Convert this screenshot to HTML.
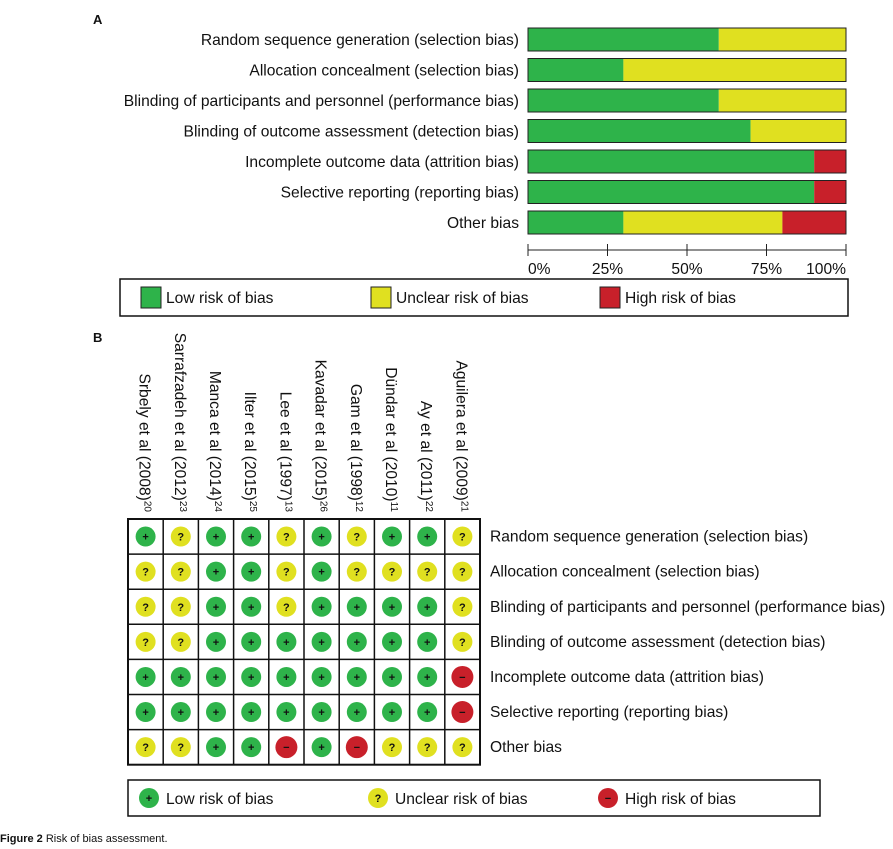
<!DOCTYPE html>
<html><head><meta charset="utf-8"><style>
html,body{margin:0;padding:0;background:#fff;width:893px;height:849px;overflow:hidden}
svg{display:block;font-family:"Liberation Sans",sans-serif}
</style></head><body>
<svg id="fig" width="893" height="849" viewBox="0 0 893 849"></svg>
<script>
const domains = ["Random sequence generation (selection bias)","Allocation concealment (selection bias)","Blinding of participants and personnel (performance bias)","Blinding of outcome assessment (detection bias)","Incomplete outcome data (attrition bias)","Selective reporting (reporting bias)","Other bias"];
const lowPct = [60,30,60,70,90,90,30];
const unclearPct = [40,70,40,30,0,0,50];
const highPct = [0,0,0,0,10,10,20];
const xTicks = [0,25,50,75,100];
const studies = ["Srbely et al (2008)","Sarrafzadeh et al (2012)","Manca et al (2014)","Ilter et al (2015)","Lee et al (1997)","Kavadar et al (2015)","Gam et al (1998)","Dündar et al (2010)","Ay et al (2011)","Aguilera et al (2009)"];
const refs = ["20","23","24","25","13","26","12","11","22","21"];
const judgements = [
 ["L","U","L","L","U","L","U","L","L","U"],
 ["U","U","L","L","U","L","U","U","U","U"],
 ["U","U","L","L","U","L","L","L","L","U"],
 ["U","U","L","L","L","L","L","L","L","U"],
 ["L","L","L","L","L","L","L","L","L","H"],
 ["L","L","L","L","L","L","L","L","L","H"],
 ["U","U","L","L","H","L","H","U","U","U"]
];
const G="#2eb34a",Y="#e0e020",R="#c8202a";
const FS=15.6;
const svg=document.getElementById('fig');
const NS="http://www.w3.org/2000/svg";
function mk(t,a,p){const e=document.createElementNS(NS,t);for(const k in a)e.setAttribute(k,a[k]);(p||svg).appendChild(e);return e;}
function txt(x,y,s,a,p){const e=mk('text',Object.assign({x:x,y:y,'font-size':FS,fill:'#111'},a||{}),p);e.textContent=s;return e;}

// Panel A
let e=txt(93,24,"A",{'font-weight':'bold','font-size':13});


const x0=528,x1=846;
const xs=v=>x0+(x1-x0)*v/100;
const rowY=i=>28+i*30.5;
domains.forEach((d,i)=>{
 const y=rowY(i);
 const g=mk('g',{});
 
 
 const l=txt(519,y+17,d,{'text-anchor':'end'},g);
 
 
 let acc=0;
 [[lowPct[i],G,'low'],[unclearPct[i],Y,'unclear'],[highPct[i],R,'high']].forEach(s=>{
  if(s[0]>0){const r=mk('rect',{x:xs(acc),y:y,width:xs(acc+s[0])-xs(acc),height:23,fill:s[1]},g);
  
  }
  acc+=s[0];
 });
 mk('rect',{x:x0,y:y,width:x1-x0,height:23,fill:'none',stroke:'#222','stroke-width':1},g);
});
const ax=mk('g',{});


mk('line',{x1:x0,y1:250,x2:x1,y2:250,stroke:'#222'},ax);
xTicks.forEach(t=>{
 mk('line',{x1:xs(t),y1:244,x2:xs(t),y2:256,stroke:'#222'},ax);
 const tl=txt(xs(t),274,t+"%",{'text-anchor':t==0?'start':t==100?'end':'middle'},ax);
 
 
});
// legend A
const lg=mk('g',{});


mk('rect',{x:120,y:279,width:728,height:37,fill:'#fff',stroke:'#111','stroke-width':1.5},lg);
[[141,G,"Low risk of bias"],[371,Y,"Unclear risk of bias"],[600,R,"High risk of bias"]].forEach(s=>{
 const le=mk('g',{},lg);
 
 
 mk('rect',{x:s[0],y:287,width:20,height:21,fill:s[1],stroke:'#222'},le);
 txt(s[0]+25,303,s[2],{},le);
});

// Panel B
e=txt(93,342,"B",{'font-weight':'bold','font-size':13});


const gx0=128,cw=35.2,gy0=519,rh=35.1;
studies.forEach((s,j)=>{
 const cx=gx0+cw*j+cw/2-6;
 const t=mk('text',{transform:`translate(${cx},512) rotate(90)`,'font-size':FS,fill:'#111','text-anchor':'end'});
 
 
 t.textContent=s;
 const sup=mk('tspan',{'font-size':10,dy:-5},t);sup.textContent=refs[j];
});
const grid=mk('g',{});


mk('rect',{x:gx0,y:gy0,width:cw*10,height:rh*7,fill:'#fff',stroke:'#111','stroke-width':2},grid);
for(let j=1;j<10;j++)mk('line',{x1:gx0+cw*j,y1:gy0,x2:gx0+cw*j,y2:gy0+rh*7,stroke:'#111','stroke-width':1.5},grid);
for(let i=1;i<7;i++)mk('line',{x1:gx0,y1:gy0+rh*i,x2:gx0+cw*10,y2:gy0+rh*i,stroke:'#111','stroke-width':1.5},grid);
function sym(cx,cy,v,p,r){
 r=r||10;
 const c=mk('circle',{cx:cx,cy:cy,r:r,fill:v=='L'?G:v=='U'?Y:R},p);
 txt(cx,cy+4,v=='L'?'+':v=='U'?'?':'−',{'text-anchor':'middle','font-size':11,'font-weight':'bold'},p);
 return c;
}
judgements.forEach((row,i)=>{
 const ry=gy0+rh*i+rh/2;
 const dl=txt(490,ry+5,domains[i],{},grid);
 
 
 row.forEach((v,j)=>{
  const g=mk('g',{},grid);
  
  
  sym(gx0+cw*j+cw/2,ry,v,g,v=='H'?11:10);
 });
});
// legend B
const lb=mk('g',{});


mk('rect',{x:128,y:780,width:692,height:36,fill:'#fff',stroke:'#111','stroke-width':1.5},lb);
[[149,'L',"Low risk of bias"],[378,'U',"Unclear risk of bias"],[608,'H',"High risk of bias"]].forEach(s=>{
 const le=mk('g',{},lb);
 
 
 sym(s[0],798,s[1],le,10);
 txt(s[0]+17,804,s[2],{},le);
});
// caption
const cap=mk('text',{x:0,y:842,'font-size':11,fill:'#111'});


const b=mk('tspan',{'font-weight':'bold'},cap);b.textContent="Figure 2 ";
const r2=mk('tspan',{},cap);r2.textContent="Risk of bias assessment.";
</script>
</body></html>
